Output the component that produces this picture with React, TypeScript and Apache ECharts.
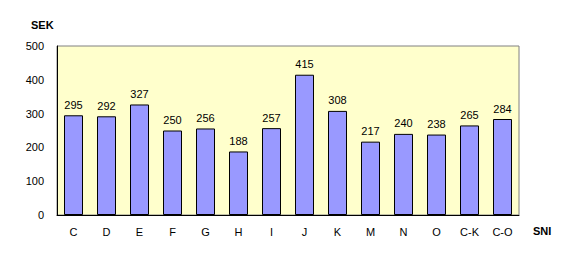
import React, { useEffect, useRef } from "react";
import * as echarts from "echarts";

const categories = ["C", "D", "E", "F", "G", "H", "I", "J", "K", "M", "N", "O", "C-K", "C-O"];
const values = [295, 292, 327, 250, 256, 188, 257, 415, 308, 217, 240, 238, 265, 284];
const yTicks = [0, 100, 200, 300, 400, 500];

export default function App() {
  const ref = useRef<HTMLDivElement>(null);
  useEffect(() => {
    const chart = echarts.init(ref.current!, null, { renderer: "svg" });
    const font = "Arial, 'Liberation Sans', sans-serif";
    chart.setOption({
      animation: false,
      backgroundColor: "#ffffff",
      textStyle: { fontFamily: font },
      grid: {
        left: 57,
        right: 68,
        top: 46,
        bottom: 47,
        show: true,
        backgroundColor: "#FFFFCC",
        borderColor: "#808080",
        borderWidth: 1,
      },
      graphic: [
        { type: "text", left: 31, top: 19, style: { text: "SEK", font: "bold 11px " + font, fill: "#000" } },
        { type: "text", left: 533, top: 225, style: { text: "SNI", font: "bold 11px " + font, fill: "#000" } },
      ],
      xAxis: {
        type: "category",
        data: categories,
        axisLine: { show: true, lineStyle: { color: "#000", width: 1 } },
        axisTick: { show: false },
        axisLabel: { color: "#000", fontSize: 11, fontFamily: font, margin: 11, interval: 0 },
      },
      yAxis: {
        type: "value",
        min: yTicks[0],
        max: yTicks[yTicks.length - 1],
        interval: 100,
        axisLine: { show: true, lineStyle: { color: "#000", width: 1 } },
        axisTick: { show: false },
        splitLine: { show: false },
        axisLabel: { color: "#000", fontSize: 11, fontFamily: font, margin: 13 },
      },
      series: [
        {
          type: "bar",
          data: values,
          barWidth: 19,
          itemStyle: { color: "#9999FF", borderColor: "#000", borderWidth: 1 },
          label: { show: true, position: "top", distance: 5, color: "#000", fontSize: 11, fontFamily: font },
        },
      ],
    });
    return () => chart.dispose();
  }, []);
  return <div ref={ref} style={{ width: 587, height: 262, position: "absolute", left: 0, top: 0 }} />;
}
